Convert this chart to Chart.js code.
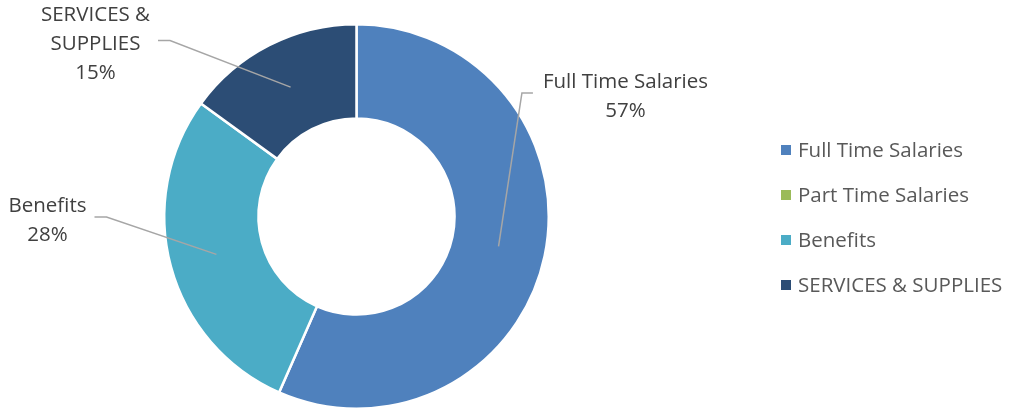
<!DOCTYPE html>
<html>
<head>
<meta charset="utf-8">
<style>
  html, body { margin: 0; padding: 0; background: #fff; }
  #wrap { width: 1013px; height: 413px; position: relative; }
</style>
<script src="https://cdn.jsdelivr.net/npm/chart.js@4/dist/chart.umd.min.js"></script>
</head>
<body>
<div id="wrap"><canvas id="budgetChart"></canvas></div>
<script>
const categories = ['Full Time Salaries', 'Part Time Salaries', 'Benefits', 'SERVICES & SUPPLIES'];
const shares = [56.6, 0, 28.4, 15];
const colors = ['#4F81BD', '#9BBB59', '#4BACC6', '#2C4D75'];

// where each data label's text block sits, relative to the doughnut centre
const labelOffsets = [
  { dx: 269, dy: -136 },
  null,
  { dx: -309, dy: -12 },
  { dx: -261, dy: -203 }
];

const FONT = '20.5px "Open Sans", Lato, sans-serif';
const LINE_H = 29;

function wrapText(ctx, text, maxWidth) {
  const words = text.split(' ');
  const lines = [];
  let cur = '';
  words.forEach(w => {
    const test = cur ? cur + ' ' + w : w;
    if (ctx.measureText(test).width > maxWidth && cur) {
      lines.push(cur);
      cur = w;
    } else {
      cur = test;
    }
  });
  if (cur) lines.push(cur);
  return lines;
}

// data labels with leader lines, in the style of the spreadsheet chart
const calloutLabels = {
  id: 'calloutLabels',
  afterDatasetsDraw(chart) {
    const ctx = chart.ctx;
    const meta = chart.getDatasetMeta(0);
    const values = chart.data.datasets[0].data;
    const total = values.reduce((a, b) => a + b, 0);
    ctx.save();
    ctx.font = FONT;
    ctx.textAlign = 'center';
    ctx.textBaseline = 'middle';
    meta.data.forEach((arc, i) => {
      if (!values[i] || !labelOffsets[i]) return;
      const p = arc.getProps(['x', 'y', 'startAngle', 'endAngle', 'innerRadius', 'outerRadius'], true);
      const mid = (p.startAngle + p.endAngle) / 2;
      const r = (p.innerRadius + p.outerRadius) / 2;
      const sx = p.x + Math.cos(mid) * r;
      const sy = p.y + Math.sin(mid) * r;

      const lines = wrapText(ctx, chart.data.labels[i], 180);
      lines.push(Math.round(values[i] / total * 100) + '%');
      const tx = p.x + labelOffsets[i].dx;
      const ty = p.y + labelOffsets[i].dy;
      const w = Math.max(...lines.map(l => ctx.measureText(l).width));
      const blockMid = ty + (lines.length - 1) * LINE_H / 2 - 2;

      let endX, elbowX;
      if (tx > p.x) {
        endX = tx - w / 2 - 10;
        elbowX = endX - 11;
      } else {
        endX = tx + w / 2 + 8;
        elbowX = endX + 12;
      }
      ctx.strokeStyle = '#A6A6A6';
      ctx.lineWidth = 1.5;
      ctx.beginPath();
      ctx.moveTo(sx, sy);
      ctx.lineTo(elbowX, blockMid);
      ctx.lineTo(endX, blockMid);
      ctx.stroke();

      ctx.fillStyle = '#404040';
      lines.forEach((l, k) => ctx.fillText(l, tx, ty + 2 + k * LINE_H));
    });
    ctx.restore();
  }
};

// legend on the right, built from the same labels and colours
const sideLegend = {
  id: 'sideLegend',
  afterDraw(chart) {
    const ctx = chart.ctx;
    const ds = chart.data.datasets[0];
    ctx.save();
    ctx.font = FONT;
    ctx.textAlign = 'left';
    ctx.textBaseline = 'middle';
    chart.data.labels.forEach((label, i) => {
      const y = 150 + i * 45;
      ctx.fillStyle = ds.backgroundColor[i];
      ctx.fillRect(781, y - 5, 10, 10);
      ctx.fillStyle = '#595959';
      ctx.fillText(label, 798, y + 1);
    });
    ctx.restore();
  }
};

new Chart(document.getElementById('budgetChart'), {
  type: 'doughnut',
  data: {
    labels: categories,
    datasets: [{
      data: shares,
      backgroundColor: colors,
      borderColor: '#ffffff',
      borderWidth: 2.5
    }]
  },
  options: {
    responsive: true,
    maintainAspectRatio: false,
    animation: false,
    cutout: '51%',
    layout: { padding: { left: 163, right: 463, top: 23, bottom: 3 } },
    plugins: {
      legend: { display: false },
      tooltip: { enabled: false }
    }
  },
  plugins: [calloutLabels, sideLegend]
});
</script>
</body>
</html>
